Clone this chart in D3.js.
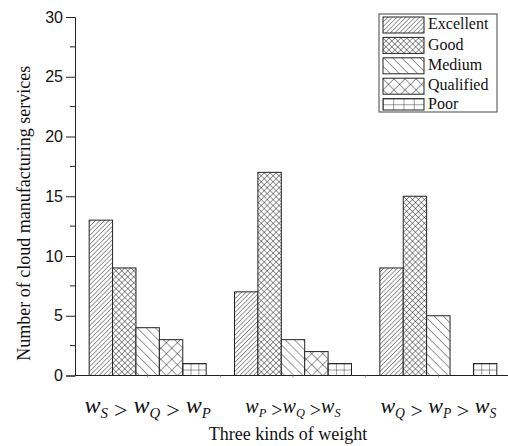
<!DOCTYPE html>
<html>
<head>
<meta charset="utf-8">
<script src="https://cdn.jsdelivr.net/npm/d3@7"></script>
<style>
  body { margin: 0; background: #fff; }
  svg { display: block; }
</style>
</head>
<body>
<div id="chart"></div>
<script>
// data
const groups = ["g1", "g2", "g3"];
const series = ["Excellent", "Good", "Medium", "Qualified", "Poor"];
const excellent = [13, 7, 9];
const good = [9, 17, 15];
const medium = [4, 3, 5];
const qualified = [3, 2, 0];
const poor = [1, 1, 1];
const yTicks = [0, 5, 10, 15, 20, 25, 30];
// category labels: [base, subscript] pieces, joined by ">"
const groupLabels = [
  { parts: [["w", "S"], ["w", "Q"], ["w", "P"]], sep: " > ", size: 24 },
  { parts: [["w", "P"], ["w", "Q"], ["w", "S"]], sep: " >", size: 20 },
  { parts: [["w", "Q"], ["w", "P"], ["w", "S"]], sep: " > ", size: 22 }
];

const values = [excellent, good, medium, qualified, poor];
const table = groups.map((g, i) => ({ group: g, vals: series.map((s, j) => ({ key: s, value: values[j][i] })) }));

const width = 508, height = 446;
const margin = { top: 17, left: 75, bottom: 70 };
const ink = "#222";

const svg = d3.select("#chart").append("svg")
  .attr("width", width).attr("height", height)
  .style("font-family", "'Liberation Serif', 'Times New Roman', serif");

const defs = svg.append("defs");

// hatch patterns
function hatch(id, spacing, angle, cross) {
  const p = defs.append("pattern").attr("id", id)
    .attr("patternUnits", "userSpaceOnUse")
    .attr("width", spacing).attr("height", spacing)
    .attr("patternTransform", `rotate(${angle})`);
  p.append("rect").attr("width", spacing).attr("height", spacing).attr("fill", "#fff");
  p.append("line").attr("x1", 0).attr("y1", 0).attr("x2", 0).attr("y2", spacing)
    .attr("stroke", ink).attr("stroke-width", 0.9);
  if (cross) {
    p.append("line").attr("x1", 0).attr("y1", 0).attr("x2", spacing).attr("y2", 0)
      .attr("stroke", ink).attr("stroke-width", 0.9);
  }
}
hatch("pat-Excellent", 3.2, 45, false);
hatch("pat-Good", 4.2, 45, true);
hatch("pat-Medium", 6.4, -45, false);
hatch("pat-Qualified", 7.8, 45, true);

function grid(id, cols, rows) {
  const p = defs.append("pattern").attr("id", id)
    .attr("patternUnits", "objectBoundingBox")
    .attr("width", 1 / cols).attr("height", 1 / rows);
  p.append("rect").attr("width", 60).attr("height", 60).attr("fill", "#fff");
  p.append("line").attr("x1", 0).attr("y1", 0).attr("x2", 0).attr("y2", 60)
    .attr("stroke", ink).attr("stroke-width", 0.9);
  p.append("line").attr("x1", 0).attr("y1", 0).attr("x2", 60).attr("y2", 0)
    .attr("stroke", ink).attr("stroke-width", 0.9);
}
grid("pat-Poor", 3, 2);
grid("pat-Poor-legend", 4, 2);

const x0 = d3.scaleBand().domain(groups).range([margin.left, 511])
  .paddingInner(0.195).paddingOuter(0.0975);
const x1 = d3.scaleBand().domain(series).range([0, x0.bandwidth()]);
const y = d3.scaleLinear().domain([0, 30]).range([height - margin.bottom - 0.5, margin.top]);

// bars
const g = svg.append("g");
g.selectAll("g.group").data(table).join("g")
  .attr("class", "group")
  .attr("transform", d => `translate(${x0(d.group)},0)`)
  .selectAll("rect").data(d => d.vals.filter(v => v.value > 0)).join("rect")
  .attr("x", d => x1(d.key))
  .attr("y", d => y(d.value))
  .attr("width", x1.bandwidth())
  .attr("height", d => y(0) - y(d.value))
  .attr("fill", d => `url(#pat-${d.key})`)
  .attr("stroke", ink).attr("stroke-width", 1);

// y axis
const yAxis = svg.append("g").attr("transform", `translate(${margin.left},0)`)
  .call(d3.axisLeft(y).tickValues(yTicks).tickSize(9).tickPadding(3));
yAxis.select(".domain").attr("stroke", ink);
yAxis.selectAll(".tick line").attr("stroke", ink);
yAxis.selectAll("text").attr("font-family", "'Liberation Sans', Arial, sans-serif")
  .attr("font-size", 16).attr("fill", "#111");
// minor ticks
svg.append("g").selectAll("line").data(d3.range(2.5, 30, 5)).join("line")
  .attr("x1", margin.left - 5).attr("x2", margin.left)
  .attr("y1", d => y(d)).attr("y2", d => y(d))
  .attr("stroke", ink);

// x axis line
svg.append("line").attr("x1", margin.left).attr("x2", width)
  .attr("y1", y(0)).attr("y2", y(0)).attr("stroke", ink).attr("stroke-width", 1.2);
// faint x ticks at centers and midpoints
const xTickPos = [];
groups.forEach((gr, i) => {
  const c = x0(gr) + x0.bandwidth() / 2;
  xTickPos.push(c);
  if (i < groups.length - 1) xTickPos.push(c + x0.step() / 2);
});
svg.append("g").selectAll("line").data(xTickPos).join("line")
  .attr("x1", d => d).attr("x2", d => d)
  .attr("y1", y(0)).attr("y2", y(0) + 2)
  .attr("stroke", "#999");

// category labels with subscripts
groupLabels.forEach((lab, i) => {
  const t = svg.append("text")
    .attr("x", x0(groups[i]) + x0.bandwidth() / 2)
    .attr("y", 413)
    .attr("text-anchor", "middle")
    .attr("font-size", lab.size)
    .attr("font-style", "italic")
    .attr("fill", "#111");
  lab.parts.forEach((pt, k) => {
    t.append("tspan").attr("dy", k === 0 ? 0 : -lab.size * 0.22).text(pt[0]);
    t.append("tspan").attr("font-size", lab.size * 0.62).attr("dy", lab.size * 0.22).text(pt[1]);
    if (k < lab.parts.length - 1) t.append("tspan").attr("font-style", "normal").text(lab.sep);
  });
});

// axis titles
svg.append("text")
  .attr("x", x0("g2") + x0.bandwidth() / 2 - 5).attr("y", 440)
  .attr("text-anchor", "middle").attr("font-size", 18).attr("fill", "#111")
  .text("Three kinds of weight");
svg.append("text")
  .attr("transform", `translate(30,${y(15) + 17}) rotate(-90)`)
  .attr("text-anchor", "middle").attr("font-size", 18).attr("fill", "#111")
  .text("Number of cloud manufacturing services");

// legend
const box = { x: 379, y: 14, w: 118, h: 98 };
const legend = svg.append("g");
legend.append("rect").attr("x", box.x).attr("y", box.y).attr("width", box.w).attr("height", box.h)
  .attr("fill", "#fff").attr("stroke", "#444").attr("stroke-width", 1);
const rowStep = 20.4;
const rowH = i => Math.min(16, box.y + box.h - 2 - (box.y + 3 + i * rowStep));
const items = legend.selectAll("g.item").data(series).join("g").attr("class", "item")
  .attr("transform", (d, i) => `translate(${box.x + 4},${box.y + 3 + i * rowStep})`);
items.append("rect")
  .attr("width", 41)
  .attr("height", (d, i) => rowH(i))
  .attr("fill", d => d === "Poor" ? "url(#pat-Poor-legend)" : `url(#pat-${d})`)
  .attr("stroke", ink).attr("stroke-width", 1);
items.append("text").attr("x", 45).attr("y", (d, i) => Math.min(8.5, rowH(i) / 2 + 1))
  .attr("dominant-baseline", "middle")
  .attr("font-size", 16).attr("fill", "#111").text(d => d);
</script>
</body>
</html>
